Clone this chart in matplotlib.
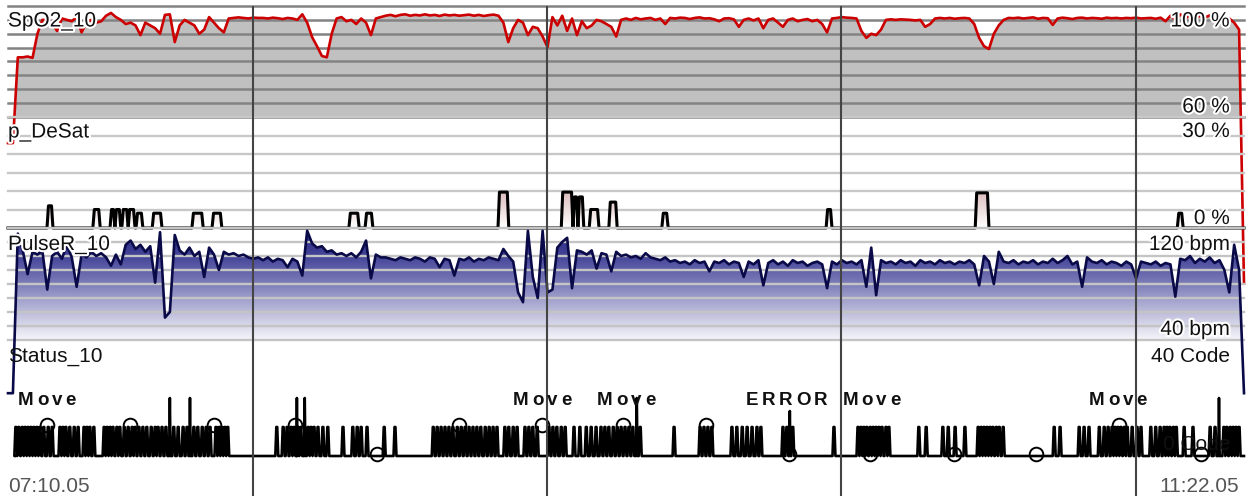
import numpy as np
import matplotlib
matplotlib.use("Agg")
import matplotlib.pyplot as plt
from matplotlib.colors import LinearSegmentedColormap
from matplotlib.patches import Polygon
import matplotlib.patheffects as pe

plt.rcParams['font.family'] = ['Liberation Sans', 'DejaVu Sans']

# ------------------------------------------------------------------ data
TOTAL_MIN = 252                      # 07:10:05 -> 11:22:05
start_label = "07:10.05"
end_label = "11:22.05"
hour_marks = [49.917, 109.917, 169.917, 229.917]   # 08:00, 09:00, 10:00, 11:00

# SpO2 (%) sampled every minute
spo2 = [
    50.6, 50.6, 81.5, 81.5, 81.8, 81.3, 90.0, 95.0, 95.0, 94.0,
    91.0, 95.5, 95.0, 94.5, 96.0, 90.5, 94.0, 95.0, 94.0, 94.5,
    96.5, 97.5, 96.0, 95.0, 93.5, 94.0, 93.0, 89.5, 94.0, 93.0,
    92.0, 90.0, 96.8, 97.0, 87.0, 93.0, 95.0, 94.0, 93.0, 90.0,
    91.5, 96.0, 94.0, 92.0, 90.5, 95.5, 95.7, 95.9, 95.7, 95.5,
    95.8, 95.7, 95.7, 95.5, 95.8, 95.6, 95.3, 95.7, 95.5, 95.0,
    97.0, 94.0, 88.8, 85.5, 82.0, 81.5, 90.0, 95.5, 96.0, 94.5,
    95.0, 93.5, 95.5, 94.0, 89.5, 95.5, 96.0, 96.5, 96.8, 96.3,
    96.8, 97.0, 96.5, 96.8, 96.6, 97.0, 96.6, 96.8, 96.4, 96.9,
    96.6, 96.8, 96.5, 96.7, 96.9, 96.5, 96.8, 96.4, 96.7, 96.9,
    96.5, 94.0, 87.0, 92.0, 95.0, 94.0, 89.5, 92.5, 92.0, 89.0,
    85.2, 96.0, 93.0, 96.5, 91.0, 95.5, 89.5, 94.5, 92.0, 93.0,
    95.0, 94.5, 93.5, 92.5, 89.0, 95.0, 95.5, 95.0, 95.7, 95.2,
    95.5, 95.7, 95.0, 95.5, 93.5, 95.7, 95.5, 95.8, 95.7, 95.3,
    95.7, 95.9, 95.5, 95.6, 95.2, 94.5, 95.5, 95.6, 95.2, 92.5,
    95.0, 95.5, 94.8, 95.5, 92.0, 95.0, 95.5, 94.0, 92.5, 95.0,
    95.5, 94.5, 95.0, 95.3, 94.5, 95.0, 93.5, 90.5, 95.5, 95.7,
    96.0, 95.8, 95.7, 95.5, 91.0, 88.5, 90.0, 89.5, 91.5, 95.0,
    95.2, 95.0, 95.2, 95.1, 95.0, 94.8, 95.0, 92.5, 93.5, 95.5,
    95.7, 95.5, 95.7, 95.4, 95.6, 95.7, 95.5, 93.5, 88.5, 85.5,
    84.5, 90.0, 93.0, 95.0, 95.7, 95.6, 95.8, 95.5, 95.7, 95.9,
    95.4, 95.7, 95.6, 93.2, 95.5, 95.8, 95.6, 95.3, 95.7, 95.8,
    95.5, 95.7, 95.6, 95.4, 95.8, 95.6, 95.7, 95.5, 95.7, 95.6,
    95.8, 95.5, 95.6, 95.7, 95.4, 95.8, 94.5, 96.5, 95.0, 97.0,
    95.5, 96.8, 95.2, 96.5, 95.8, 96.6, 95.5, 96.2, 95.8, 95.5,
    94.0, 91.5, 0.0,
]

# Pulse rate (bpm) sampled every minute
pulse = [
    2, 2, 116, 104, 87, 103, 101, 104, 76, 100,
    103, 98, 108, 99, 78, 101, 99, 103, 100, 102,
    99, 93, 101, 94, 108, 111, 105, 108, 103, 107,
    81, 117, 56, 60, 115, 104, 101, 106, 100, 103,
    85, 106, 101, 90, 103, 101, 102, 100, 101, 99,
    98, 99, 97, 99, 96, 98, 97, 92, 98, 96,
    86, 118, 109, 106, 107, 103, 104, 101, 102, 100,
    102, 99, 103, 111, 84, 101, 99, 99, 98, 97,
    99, 98, 97, 99, 98, 96, 99, 98, 92, 98,
    97, 86, 98, 97, 99, 96, 98, 97, 99, 98,
    97, 105, 100, 96, 74, 67, 118, 85, 70, 118,
    74, 76, 106, 110, 113, 77, 104, 103, 101, 104,
    91, 102, 101, 89, 103, 100, 101, 99, 100, 98,
    102, 99, 98, 97, 99, 96, 97, 95, 96, 94,
    97, 95, 96, 89, 96, 95, 97, 94, 96, 95,
    85, 96, 94, 97, 79, 95, 97, 94, 96, 93,
    97, 95, 96, 93, 95, 96, 94, 77, 96, 94,
    97, 95, 96, 94, 97, 78, 106, 72, 97, 95,
    96, 94, 97, 95, 96, 93, 97, 95, 96, 94,
    97, 95, 96, 94, 96, 95, 97, 94, 79, 100,
    96, 80, 103, 96, 95, 97, 94, 96, 95, 97,
    94, 96, 95, 98, 95, 97, 100, 94, 96, 78,
    99, 96, 95, 97, 94, 96, 95, 93, 96, 94,
    84, 96, 95, 94, 96, 93, 95, 94, 71, 98,
    97, 100, 95, 98, 96, 99, 95, 97, 90, 74,
    108, 90, 2,
]

# desaturation events: start (min), end (min), depth (%)
desat_start = [7.95, 17.3, 20.8, 21.8, 23.2, 24.5, 26.1, 29.4, 37.5, 41.6, 69.5,
               72.8, 99.9, 112.8, 115.2, 116.2, 118.5, 122.5, 133.3, 166.8, 197.2, 238.4]
desat_end = [9.17, 18.8, 21.8, 23.0, 24.5, 25.9, 27.5, 31.4, 39.8, 43.6, 71.6,
             74.4, 102.1, 115.2, 116.2, 117.4, 120.5, 124.2, 134.6, 168.0, 200.0, 239.6]
desat_depth = [6, 5, 5, 5, 5, 5, 4, 4, 4, 4, 4,
               4, 9.7, 9.7, 8.4, 8.4, 5, 7, 4, 5, 9.5, 4]

# status code pulses (code 10) at these minutes
status_first = 1.4
status_code = 10
status_pulse_t = [
    1.6, 2.2, 2.9, 3.5, 4.1, 4.7, 5.3, 5.9, 6.5, 7.3, 8.2, 9.0,
    10.6, 11.2, 11.8, 12.6, 13.5, 14.3, 15.5, 16.1, 16.7, 17.5,
    19.6, 20.2, 20.8, 21.4, 22.2, 22.8, 23.7, 24.5, 25.3, 25.9, 26.7, 27.5,
    28.3, 29.2, 30.0, 30.6, 31.4, 32.2, 33.8, 34.7, 35.7, 36.5,
    37.9, 38.7, 39.6, 40.4, 41.2, 42.4, 43.0, 43.6, 44.2, 44.8,
    54.8, 56.1, 56.9, 57.7, 58.3, 59.1, 59.7, 61.2, 61.8, 62.4, 63.2, 64.2, 65.2,
    68.3, 70.3, 71.2, 72.0, 73.2, 76.7, 78.9,
    86.7, 87.5, 88.3, 89.1, 89.9, 90.7, 91.6, 92.4, 93.2, 94.0, 94.8, 95.6,
    96.4, 97.3, 98.1, 98.9, 99.7,
    101.3, 102.1, 103.0, 103.8, 105.4, 106.2, 107.0, 107.9,
    110.3, 111.1, 111.9, 112.8, 113.6, 115.4, 116.6, 117.9, 118.9, 119.9,
    120.9, 121.7, 122.5, 123.4, 124.2, 125.0, 125.8, 126.6, 127.4, 128.9,
    135.8, 141.1, 141.9, 142.7, 143.5,
    147.6, 148.6, 149.7, 150.7, 151.7, 152.7, 153.5,
    158.0, 158.8, 160.0, 168.4,
    173.3, 173.9, 174.5, 175.1, 175.8, 176.4, 177.0, 177.6, 178.2, 179.0, 179.6,
    185.7, 187.2, 190.6, 191.7, 193.1, 195.1,
    197.8, 198.4, 199.0, 199.6, 200.2, 200.8, 201.5, 202.1, 202.9,
    213.3, 214.5, 218.4, 219.4, 220.4, 222.5, 223.5, 224.3,
    225.1, 225.7, 226.3, 226.9, 227.6, 228.2, 229.2, 230.2, 231.0,
    233.0, 234.0, 234.9, 235.7, 236.3, 236.9, 237.6, 238.2,
    239.8, 241.6, 245.1, 246.1,
    247.9, 248.5, 249.2, 249.8, 250.4, 251.0,
]
status_tall_t = [33.0, 37.1, 58.9, 60.5, 128.2, 159.4, 246.9]
status_tall_v = [20, 20, 20, 20, 20, 15.5, 20]
mark_high_t = [8.0, 24.9, 42.0, 58.5, 92.0, 108.9, 125.4, 142.3, 226.5]
mark_high_v = 10.8
mark_low_t = [75.2, 159.2, 175.8, 192.9, 209.6, 243.3]
mark_low_v = 0.6
event_t = [2.0, 103.0, 120.1, 150.5, 170.1, 220.4]
event_text = ["Move", "Move", "Move", "ERROR", "Move", "Move"]

# ------------------------------------------------------------------ figure
W, H = 1252, 496
X0, X1 = 8, 1244
fig = plt.figure(figsize=(W / 100, H / 100), dpi=100)
fig.patch.set_facecolor('white')


def add_panel(top, bottom, ylim):
    ax = fig.add_axes([X0 / W, 1 - bottom / H, (X1 - X0) / W, (bottom - top) / H])
    ax.set_xlim(0, TOTAL_MIN)
    ax.set_ylim(*ylim)
    ax.set_axis_off()
    return ax


ax_s = add_panel(6, 117, (60, 100))
ax_d = add_panel(117, 228, (0, 30))
ax_p = add_panel(228, 340, (40, 120))
ax_c = add_panel(340, 456, (0, 40))

t = np.arange(len(spo2), dtype=float)
tp = np.arange(len(pulse), dtype=float)
spo2 = np.array(spo2)
pulse = np.array(pulse, dtype=float)

# --- SpO2
ax_s.fill_between(t, spo2, 60, color='#c0c0c0', lw=0, zorder=1)
for v in range(60, 101, 5):
    ax_s.axhline(v, color='#838383', lw=1.8, zorder=2, clip_on=False)
ax_s.plot(t, spo2, color='#cc0000', lw=1.9, zorder=6, clip_on=False)

# --- DeSat
dx, dy = [0.0], [0.0]
for s, e, d in zip(desat_start, desat_end, desat_depth):
    r = min(0.3, (e - s) / 3)
    dx += [s, s + r, e - r, e]
    dy += [0, d, d, 0]
dx.append(TOTAL_MIN)
dy.append(0.0)
for v in range(0, 31, 5):
    ax_d.axhline(v, color='#c8c8c8', lw=1.7, zorder=1, clip_on=False)
desat_cmap = LinearSegmentedColormap.from_list(
    'ds', [(0, '#ffffff'), (1 / 3, '#dcbcbc'), (1, '#b07070')])
grad = np.linspace(0, 1, 256).reshape(-1, 1)
imd = ax_d.imshow(grad, extent=[0, TOTAL_MIN, 0, 30], origin='lower', aspect='auto',
                  cmap=desat_cmap, zorder=2, interpolation='bilinear')
pd_ = Polygon(np.column_stack([dx, dy]), closed=True, transform=ax_d.transData,
              fc='none', ec='none')
ax_d.add_patch(pd_)
imd.set_clip_path(pd_)
ax_d.plot(dx, dy, color='black', lw=2.2, zorder=6, clip_on=False)
ax_d.set_xlim(0, TOTAL_MIN)
ax_d.set_ylim(0, 30)

# --- Pulse
pulse_cmap = LinearSegmentedColormap.from_list(
    'pl', [(0, '#f5f5fa'), (0.25, '#bcbcdb'), (0.5, '#7d7db9'),
           (0.75, '#434398'), (1, '#262682')])
imp = ax_p.imshow(grad, extent=[0, TOTAL_MIN, 40, 120], origin='lower', aspect='auto',
                  cmap=pulse_cmap, zorder=1, interpolation='bilinear')
pp = Polygon(np.column_stack([np.r_[tp[0], tp, tp[-1]], np.r_[40, pulse, 40]]),
             closed=True, transform=ax_p.transData, fc='none', ec='none')
ax_p.add_patch(pp)
imp.set_clip_path(pp)
for v in range(40, 121, 10):
    ax_p.axhline(v, color='#c4c4c4', lw=1.7, zorder=3, clip_on=False)
ax_p.plot(tp, pulse, color='#0a0a48', lw=1.9, zorder=6, clip_on=False)
ax_p.set_xlim(0, TOTAL_MIN)
ax_p.set_ylim(40, 120)

# --- Status
ev = [(c, status_code, 0.30, 0.09) for c in status_pulse_t] + \
     [(c, h, 0.14, 0.0) for c, h in zip(status_tall_t, status_tall_v)]
ev.sort()
sx, sy = [status_first], [0.0]
for c, h, hb, ht in ev:
    sx += [c - hb, c - ht, c + ht, c + hb]
    sy += [0, h, h, 0]
sx.append(TOTAL_MIN)
sy.append(0.0)
ax_c.plot(sx, sy, color='black', lw=1.9, zorder=6, clip_on=False)
ax_c.plot(mark_high_t, [mark_high_v] * len(mark_high_t), 'o', mfc='none', mec='black',
          ms=9.8, mew=1.4, zorder=7, clip_on=False)
ax_c.plot(mark_low_t, [mark_low_v] * len(mark_low_t), 'o', mfc='none', mec='black',
          ms=9.8, mew=1.4, zorder=7, clip_on=False)

# --- hour lines
ax_h = fig.add_axes([X0 / W, 0, (X1 - X0) / W, 1 - 6 / H])
ax_h.set_xlim(0, TOTAL_MIN)
ax_h.set_axis_off()
for hm in hour_marks:
    ax_h.axvline(hm, color='#444444', lw=1.5)

# --- texts
halo = [pe.withStroke(linewidth=3, foreground='white')]


def ftxt(x, y, s, **kw):
    return fig.text(x / W, 1 - y / H, s, va='baseline', **kw)


FS = 15
for y, s in [(26.5, "SpO2_10"), (137.5, "p_DeSat"), (250, "PulseR_10")]:
    ftxt(8, y, s, ha='left', fontsize=FS, color='#111111', path_effects=halo, zorder=10)
for y, s in [(26.5, "100 %"), (112.5, "60 %"), (137, "30 %"), (224, "0 %"),
             (250, "120 bpm"), (335, "40 bpm")]:
    ftxt(1230, y, s, ha='right', fontsize=FS, color='#111111', path_effects=halo, zorder=10)
ftxt(8, 361.5, "Status_10", ha='left', fontsize=FS, color='#111111', zorder=1)
ftxt(1230, 361.5, "40 Code", ha='right', fontsize=FS, color='#111111', zorder=1)
ftxt(1230, 450, "0 Code", ha='right', fontsize=FS, color='#111111', zorder=1)
ftxt(8, 491.5, start_label, ha='left', fontsize=15, color='#555555')
ftxt(1239, 491.5, end_label, ha='right', fontsize=15, color='#555555')

renderer = fig.canvas.get_renderer()
for tt, s in zip(event_t, event_text):
    x = ax_c.transData.transform((tt, 0))[0]
    for ch in s:
        tx = fig.text(x / W, 1 - 405 / H, ch, fontsize=13.5, fontweight='bold',
                      va='baseline', ha='left', color='#111111')
        x += tx.get_window_extent(renderer).width + 3.4

fig.savefig('out.png', dpi=100, facecolor='white')
